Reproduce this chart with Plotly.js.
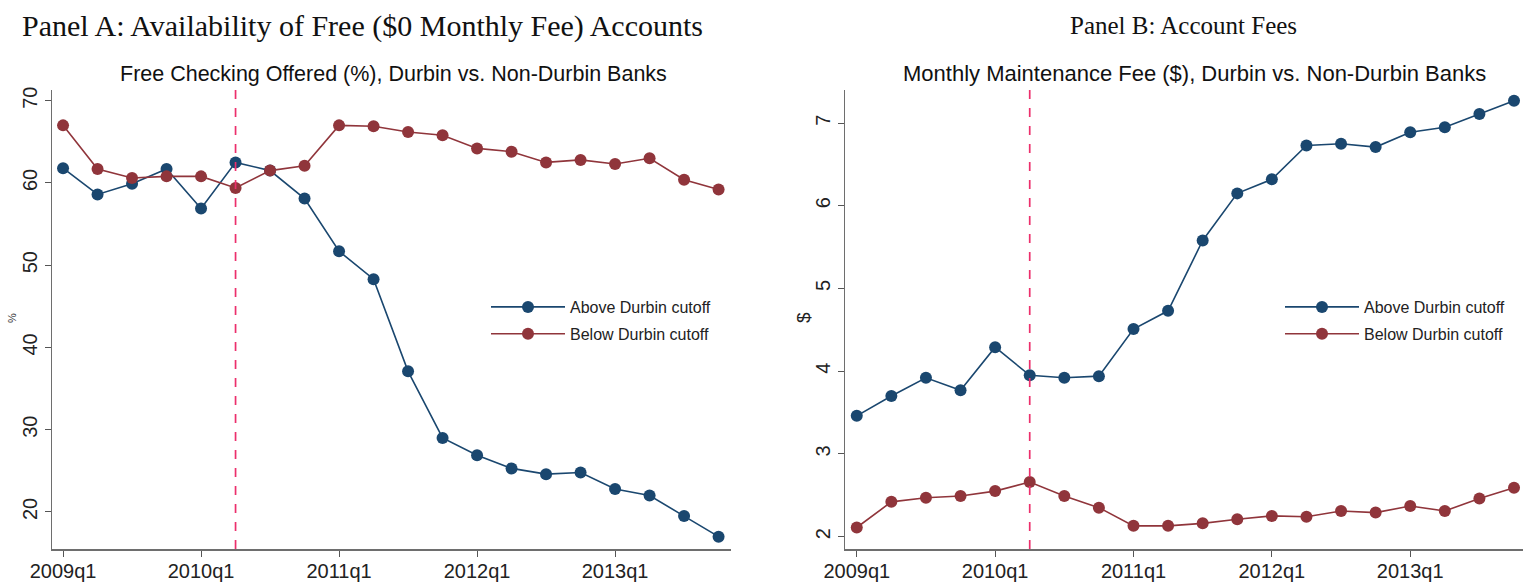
<!DOCTYPE html>
<html><head><meta charset="utf-8">
<script src="https://cdn.plot.ly/plotly-3.0.1.min.js"></script>
<style>html,body{margin:0;padding:0;background:#fff}#chart{width:1523px;height:584px}</style>
</head><body><div id="chart"></div>
<script>
const quarters = ['2009q1','2009q2','2009q3','2009q4','2010q1','2010q2','2010q3','2010q4',
  '2011q1','2011q2','2011q3','2011q4','2012q1','2012q2','2012q3','2012q4',
  '2013q1','2013q2','2013q3','2013q4'];
const tickQuarters = ['2009q1','2010q1','2011q1','2012q1','2013q1'];
const seriesNames = ['Above Durbin cutoff','Below Durbin cutoff'];
// Panel A: Free checking offered (%)
const freeAbove = [61.8,58.6,59.9,61.7,56.9,62.5,61.5,58.1,51.7,48.3,37.1,29.0,26.9,25.3,24.6,24.8,22.8,22.0,19.5,17.0];
const freeBelow = [67.0,61.7,60.6,60.8,60.8,59.4,61.5,62.1,67.0,66.9,66.2,65.8,64.2,63.8,62.5,62.8,62.3,63.0,60.4,59.2];
// Panel B: Monthly maintenance fee ($)
const feeAbove = [3.46,3.70,3.92,3.77,4.29,3.95,3.92,3.94,4.51,4.73,5.58,6.15,6.32,6.73,6.75,6.71,6.89,6.95,7.11,7.27];
const feeBelow = [2.11,2.42,2.47,2.49,2.55,2.66,2.49,2.35,2.13,2.13,2.16,2.21,2.25,2.24,2.31,2.29,2.37,2.31,2.46,2.59];
const eventQuarter = '2010q2';
const panelTitles = ['Panel A: Availability of Free ($0 Monthly Fee) Accounts','Panel B: Account Fees'];
const subTitles = ['Free Checking Offered (%), Durbin vs. Non-Durbin Banks','Monthly Maintenance Fee ($), Durbin vs. Non-Durbin Banks'];
const yTitles = ['%','$'];
const yTicksA = [20,30,40,50,60,70];
const yTicksB = [2,3,4,5,6,7];

const BLUE = '#1a476f', RED = '#90353b', DASH = '#ec2f6c';
const W = 1523, H = 584;
function trace(y, name, color, xa, ya, lg, grp) {
  return {x: quarters, y: y, name: name, type: 'scatter', mode: 'lines+markers',
    xaxis: xa, yaxis: ya, legend: lg, legendgroup: grp, cliponaxis: false,
    line: {color: color, width: 1.6}, marker: {color: color, size: 12}};
}
const data = [
  trace(freeAbove, seriesNames[0], BLUE, 'x', 'y', 'legend', 'a1'),
  trace(freeBelow, seriesNames[1], RED, 'x', 'y', 'legend', 'a2'),
  trace(feeAbove, seriesNames[0], BLUE, 'x2', 'y2', 'legend2', 'b1'),
  trace(feeBelow, seriesNames[1], RED, 'x2', 'y2', 'legend2', 'b2')
];
const tickFont = {family: 'Liberation Sans, Arial, sans-serif', size: 20, color: '#222'};
function xax(domain, range, anchor) {
  return {domain: domain, range: range, type: 'category', anchor: anchor,
    tickmode: 'array', tickvals: tickQuarters, ticktext: tickQuarters,
    showline: true, linecolor: '#6e6e6e', linewidth: 1.5, showgrid: false, zeroline: false,
    ticks: 'outside', ticklen: 6, tickcolor: '#555', tickwidth: 1, tickfont: tickFont,
    ticklabelstandoff: -3};
}
function yax(range, tv, anchor) {
  return {domain: [35/H, 494/H], range: range, anchor: anchor,
    tickmode: 'array', tickvals: tv, tickangle: -90,
    showline: true, linecolor: '#6e6e6e', linewidth: 1.5, showgrid: false, zeroline: false,
    ticks: 'outside', ticklen: 6, tickcolor: '#555', tickwidth: 1, tickfont: tickFont};
}
const ev = quarters.indexOf(eventQuarter);
const legFont = {family: 'Liberation Sans, Arial, sans-serif', size: 16, color: '#222'};
const layout = {
  width: W, height: H, margin: {l: 0, r: 0, t: 0, b: 0},
  paper_bgcolor: '#fff', plot_bgcolor: '#fff',
  xaxis: xax([52/W, 731/W], [-0.32, 19.36], 'y'),
  yaxis: yax([15.5, 71.3], yTicksA, 'x'),
  xaxis2: xax([845/W, 1], [-0.34, 19.26], 'y2'),
  yaxis2: yax([1.85, 7.40], yTicksB, 'x2'),
  showlegend: true,
  legend: {x: 486/W, y: 1 - 290/H, xanchor: 'left', yanchor: 'top', bgcolor: 'rgba(0,0,0,0)',
    font: legFont, itemwidth: 74, traceorder: 'grouped', tracegroupgap: 3},
  legend2: {x: 1280/W, y: 1 - 290/H, xanchor: 'left', yanchor: 'top', bgcolor: 'rgba(0,0,0,0)',
    font: legFont, itemwidth: 74, traceorder: 'grouped', tracegroupgap: 3},
  shapes: [
    {type: 'line', xref: 'x', yref: 'y domain', x0: ev, x1: ev, y0: 0, y1: 1,
      line: {color: DASH, width: 1.7, dash: 'dash'}},
    {type: 'line', xref: 'x2', yref: 'y2 domain', x0: ev, x1: ev, y0: 0, y1: 1,
      line: {color: DASH, width: 1.7, dash: 'dash'}}
  ],
  annotations: [
    {text: panelTitles[0], xref: 'paper', yref: 'paper', x: 362/W, y: 1 - 26/H, showarrow: false,
      xanchor: 'center', yanchor: 'middle', font: {family: 'Liberation Serif, serif', size: 30, color: '#111'}},
    {text: panelTitles[1], xref: 'paper', yref: 'paper', x: 1183/W, y: 1 - 26/H, showarrow: false,
      xanchor: 'center', yanchor: 'middle', font: {family: 'Liberation Serif, serif', size: 25, color: '#111'}},
    {text: subTitles[0], xref: 'paper', yref: 'paper', x: 393/W, y: 1 - 74/H, showarrow: false,
      xanchor: 'center', yanchor: 'middle', font: {family: 'Liberation Sans, Arial, sans-serif', size: 21.5, color: '#111'}},
    {text: subTitles[1], xref: 'paper', yref: 'paper', x: 1194/W, y: 1 - 74/H, showarrow: false,
      xanchor: 'center', yanchor: 'middle', font: {family: 'Liberation Sans, Arial, sans-serif', size: 22, color: '#111'}},
    {text: yTitles[0], xref: 'paper', yref: 'paper', x: 12/W, y: 1 - 318/H, showarrow: false, textangle: -90,
      xanchor: 'center', yanchor: 'middle', font: {family: 'Liberation Sans, Arial, sans-serif', size: 11, color: '#333'}},
    {text: yTitles[1], xref: 'paper', yref: 'paper', x: 803/W, y: 1 - 318/H, showarrow: false, textangle: -90,
      xanchor: 'center', yanchor: 'middle', font: {family: 'Liberation Sans, Arial, sans-serif', size: 19, color: '#222'}}
  ]
};
Plotly.newPlot('chart', data, layout, {staticPlot: true});
</script></body></html>
